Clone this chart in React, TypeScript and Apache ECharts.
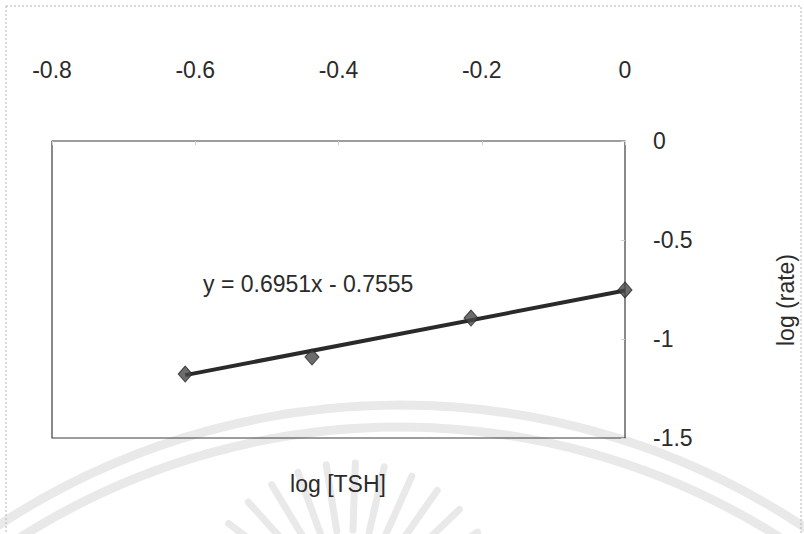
import React, { useEffect, useRef } from "react";
import * as echarts from "echarts";

const logTSH = [-0.614, -0.437, -0.215, 0];
const logRate = [-1.177, -1.091, -0.894, -0.7525];
const trendSlope = 0.6951;
const trendIntercept = -0.7555;
const xTicks = [-0.8, -0.6, -0.4, -0.2, 0];
const yTicks = [0, -0.5, -1, -1.5];
const xTitle = "log [TSH]";
const yTitle = "log (rate)";
const equationText = "y = 0.6951x - 0.7555";

const FONT = "'Liberation Sans', Arial, sans-serif";
const TEXT = "#2b2b2b";
const WM = "#e9e9e9";

function watermark() {
  const els: any[] = [];
  // two faint concentric arcs
  [730, 708].forEach((r) => {
    els.push({
      type: "arc",
      silent: true,
      z: -2,
      shape: { cx: 400, cy: 1135, r, startAngle: Math.PI * 1.15, endAngle: Math.PI * 1.85 },
      style: { fill: "none", stroke: WM, lineWidth: 9 },
    });
  });
  // faint sunburst rays
  const cx = 350;
  const cy = 615;
  for (let a = 206; a <= 334; a += 11) {
    const t = (a * Math.PI) / 180;
    els.push({
      type: "line",
      silent: true,
      z: -2,
      shape: {
        x1: cx + Math.cos(t) * 85,
        y1: cy + Math.sin(t) * 85,
        x2: cx + Math.cos(t) * 152,
        y2: cy + Math.sin(t) * 152,
      },
      style: { stroke: WM, lineWidth: 7, lineCap: "round" },
    });
  }
  return els;
}

export default function App() {
  const ref = useRef<HTMLDivElement>(null);
  useEffect(() => {
    if (!ref.current) return;
    const chart = echarts.init(ref.current, undefined, { renderer: "svg" });
    const xs = [logTSH[0], logTSH[logTSH.length - 1]];
    const trend = xs.map((x) => [x, trendSlope * x + trendIntercept]);
    const labelFmt = (v: number) => String(Math.round(v * 10) / 10);
    chart.setOption({
      animation: false,
      backgroundColor: "#ffffff",
      grid: {
        left: 52,
        right: 179,
        top: 141,
        bottom: 96,
        show: true,
        borderColor: "#3c3c3c",
        borderWidth: 1.2,
        backgroundColor: "transparent",
      },
      xAxis: {
        type: "value",
        position: "top",
        min: xTicks[0],
        max: xTicks[xTicks.length - 1],
        interval: 0.2,
        axisLine: { show: false },
        axisTick: { show: true, inside: true, length: 4, lineStyle: { color: "#d0d0d0" } },
        splitLine: { show: false },
        axisLabel: { margin: 60, fontSize: 23, fontFamily: FONT, color: TEXT, formatter: labelFmt },
      },
      yAxis: {
        type: "value",
        position: "right",
        min: yTicks[yTicks.length - 1],
        max: yTicks[0],
        interval: 0.5,
        axisLine: { show: false },
        axisTick: { show: true, inside: true, length: 4, lineStyle: { color: "#d0d0d0" } },
        splitLine: { show: false },
        axisLabel: { margin: 28, fontSize: 23, fontFamily: FONT, color: TEXT, formatter: labelFmt },
      },
      graphic: [
        ...watermark(),
        {
          type: "rect",
          silent: true,
          z: -1,
          shape: { x: 6, y: 6, width: 795, height: 560 },
          style: { fill: "none", stroke: "#b5b5b5", lineWidth: 1, lineDash: [2, 2] },
        },
        {
          type: "text",
          x: 338,
          y: 484,
          style: { text: xTitle, fontSize: 23, fontFamily: FONT, fill: TEXT, align: "center", verticalAlign: "middle" },
        },
        {
          type: "text",
          x: 786,
          y: 300,
          rotation: Math.PI / 2,
          style: { text: yTitle, fontSize: 23, fontFamily: FONT, fill: TEXT, align: "center", verticalAlign: "middle" },
        },
        {
          type: "text",
          x: 203,
          y: 284,
          style: { text: equationText, fontSize: 23, fontFamily: FONT, fill: TEXT, align: "left", verticalAlign: "middle" },
        },
      ],
      series: [
        {
          type: "line",
          data: trend,
          showSymbol: false,
          symbol: "none",
          lineStyle: { color: "#2a2a2a", width: 4 },
          z: 2,
        },
        {
          type: "scatter",
          data: logTSH.map((x, i) => [x, logRate[i]]),
          symbol: "diamond",
          symbolSize: [14, 16],
          itemStyle: { color: "#474747", borderColor: "#262626", borderWidth: 1 },
          z: 3,
        },
      ],
    });
    return () => chart.dispose();
  }, []);
  return <div ref={ref} style={{ position: "fixed", left: 0, top: 0, width: 804, height: 534 }} />;
}
